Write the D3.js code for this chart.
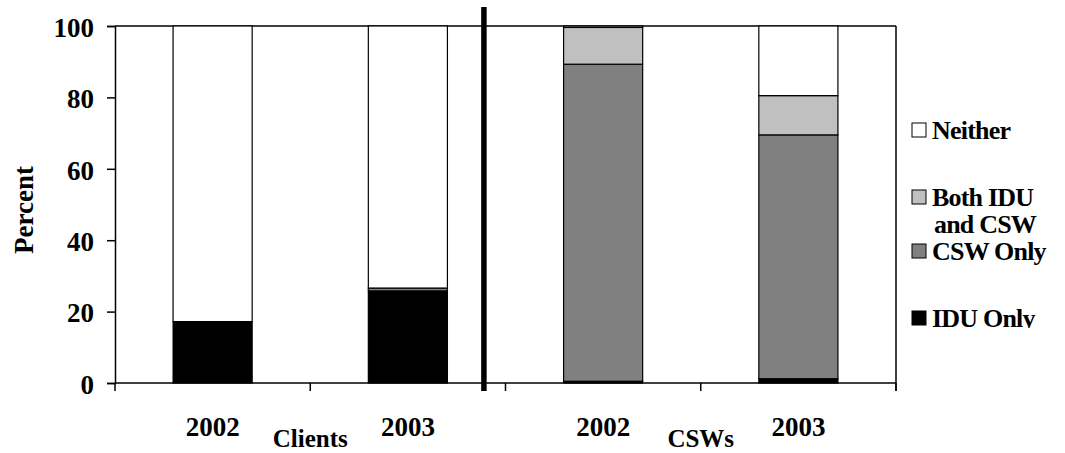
<!DOCTYPE html>
<html><head><meta charset="utf-8">
<script src="https://cdn.jsdelivr.net/npm/d3@7"></script>
<style>
body{margin:0;background:#fff;}
text{font-family:"Liberation Serif","Times New Roman",serif;font-weight:bold;fill:#000;}
</style></head>
<body><svg id="c" width="1065" height="453"></svg>
<script>
const slots = ["C2002","C2003","S2002","S2003"];
const yearLabels = ["2002","2003","2002","2003"];
const groupLabels = ["Clients","CSWs"];
const seriesNames = ["IDU Only","CSW Only","Both IDU and CSW","Neither"];
const iduOnly = [17.2, 25.8, 0.5, 1.2];
const cswOnly = [0, 0.8, 88.8, 68.3];
const bothIduCsw = [0, 0, 10.3, 11.0];
const neither = [82.8, 73.4, 0.4, 19.5];
const yTicks = [0,20,40,60,80,100];
const colors = ["#000000","#808080","#c0c0c0","#ffffff"];

const svg = d3.select("#c");
const L=115, R=896, T=26, B=383;
const x = d3.scaleBand().domain(slots).range([L,R]).paddingInner(0.595).paddingOuter(0.2975);
const y = d3.scaleLinear().domain([0,100]).range([B,T]);

const rows = slots.map((s,i)=>({slot:s,"IDU Only":iduOnly[i],"CSW Only":cswOnly[i],"Both IDU and CSW":bothIduCsw[i],"Neither":neither[i]}));
const stacked = d3.stack().keys(seriesNames)(rows);

// plot frame (top and right)
svg.append("line").attr("x1",L).attr("x2",R).attr("y1",T).attr("y2",T).attr("stroke","#000").attr("stroke-width",1.5);
svg.append("line").attr("x1",R).attr("x2",R).attr("y1",T).attr("y2",B+8).attr("stroke","#000").attr("stroke-width",1.5);

// bars
svg.append("g").selectAll("g").data(stacked).join("g")
  .attr("fill",(d,i)=>colors[i])
  .selectAll("rect").data(d=>d.filter(v=>v[1]-v[0]>0)).join("rect")
  .attr("x",d=>x(d.data.slot)).attr("width",x.bandwidth())
  .attr("y",d=>y(d[1])).attr("height",d=>Math.max(0,y(d[0])-y(d[1])))
  .attr("stroke","#000").attr("stroke-width",1.2);

// y axis
const ya = svg.append("g").attr("transform",`translate(${L},0)`)
  .call(d3.axisLeft(y).tickValues(yTicks).tickSize(8).tickPadding(13));
ya.select(".domain").attr("stroke","#000").attr("stroke-width",1.5);
ya.selectAll(".tick line").attr("stroke","#000").attr("stroke-width",1.5);
ya.selectAll(".tick text").style("font-size","27px").style("font-family","Liberation Serif").style("font-weight","bold").attr("dy","0.38em");

// x axis baseline and boundary ticks
svg.append("line").attr("x1",L).attr("x2",R).attr("y1",B).attr("y2",B).attr("stroke","#000").attr("stroke-width",1.5);
const step = x.step();
const bounds = d3.range(slots.length+1).map(i=>L+i*step);
svg.append("g").selectAll("line").data(bounds).join("line")
  .attr("x1",d=>d).attr("x2",d=>d).attr("y1",B).attr("y2",B+8).attr("stroke","#000").attr("stroke-width",1.5);

// category labels
svg.append("g").selectAll("text").data(slots).join("text")
  .attr("x",d=>x(d)+x.bandwidth()/2).attr("y",436).attr("text-anchor","middle")
  .style("font-size","27px").text((d,i)=>yearLabels[i]);
// group labels
svg.append("g").selectAll("text").data(groupLabels).join("text")
  .attr("x",(d,i)=>L+step*(2*i+1)).attr("y",447).attr("text-anchor","middle")
  .style("font-size","25px").text(d=>d);

// thick separator
const sepX = x("C2003")+x.bandwidth()+step*0.187;
svg.append("line").attr("x1",sepX).attr("x2",sepX).attr("y1",7).attr("y2",B+8).attr("stroke","#000").attr("stroke-width",5.5);

// y title
svg.append("text").attr("transform","translate(33,210) rotate(-90)").attr("text-anchor","middle")
  .style("font-size","27px").text("Percent");

// legend
const legendItems = [
  {name:"Neither", color:colors[3], lines:["Neither"], y:130},
  {name:"Both IDU and CSW", color:colors[2], lines:["Both IDU","and CSW"], y:197},
  {name:"CSW Only", color:colors[1], lines:["CSW Only"], y:251},
  {name:"IDU Only", color:colors[0], lines:["IDU Only"], y:318}
];
svg.append("defs").append("clipPath").attr("id","clipIdu").append("rect")
  .attr("x",900).attr("y",290).attr("width",165).attr("height",38);
const lg = svg.append("g").selectAll("g").data(legendItems).join("g")
  .attr("clip-path",d=>d.name==="IDU Only"?"url(#clipIdu)":null);
lg.append("rect").attr("x",912).attr("y",d=>d.y-7).attr("width",14).attr("height",14)
  .attr("fill",d=>d.color).attr("stroke","#000").attr("stroke-width",1);
lg.each(function(d){
  const t = d3.select(this).append("text").attr("x",932).attr("y",d.y+9).style("font-size","26px").style("letter-spacing","-0.8px");
  d.lines.forEach((ln,i)=>t.append("tspan").attr("x",i===0?932:934).attr("dy",i===0?0:27).text(ln));
});
</script></body></html>
